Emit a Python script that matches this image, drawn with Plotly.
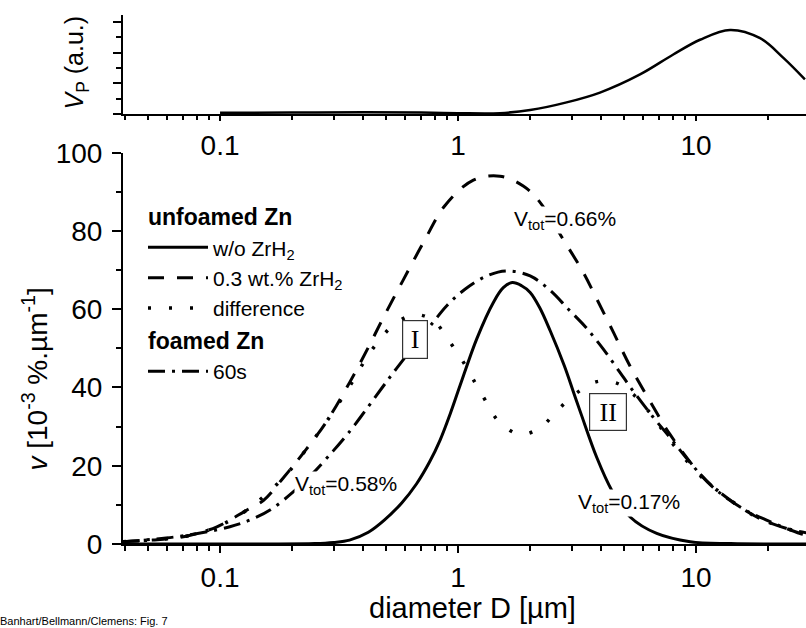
import plotly.graph_objects as go
import math

# ---------------- data ----------------
D_solid = [0.039, 0.15, 0.25, 0.30, 0.35, 0.42, 0.49, 0.58, 0.67, 0.76, 0.84, 0.93, 1.02, 1.20, 1.41,
           1.55, 1.69, 1.85, 2.01, 2.20, 2.44, 2.80, 3.05, 3.30, 3.83, 4.43, 5.29, 6.84, 9.45, 14.0, 30.0]
v_solid = [0.0, 0.0, 0.1, 0.4, 1.0, 3.0, 6.1, 10.5, 15.4, 21.0, 26.5, 33.5, 40.5, 52.5, 61.8,
           65.5, 66.8, 66.0, 64.3, 60.5, 54.5, 45.5, 39.0, 33.0, 22.1, 13.7, 6.9, 2.7, 0.6, 0.1, 0.0]

D_dash = [0.039, 0.052, 0.072, 0.097, 0.129, 0.152, 0.185, 0.231, 0.281, 0.352, 0.426, 0.485, 0.589,
          0.715, 0.882, 1.16, 1.50, 1.88, 2.20, 2.77, 3.36, 3.83, 4.49, 5.28, 6.41, 7.78, 10.4, 12.6,
          18.0, 25.6, 30.0]
v_dash = [0.6, 1.0, 2.0, 4.4, 8.6, 11.1, 17.0, 24.3, 31.4, 41.5, 51.0, 57.8, 67.5,
          77.0, 86.5, 93.0, 94.0, 91.5, 87.5, 77.8, 69.4, 62.6, 54.2, 45.5, 36.5, 28.0, 17.9, 13.2,
          6.9, 3.5, 2.8]

D_diff = [0.039, 0.072, 0.097, 0.129, 0.185, 0.231, 0.281, 0.352, 0.407, 0.455, 0.543, 0.66, 0.787,
          0.925, 1.05, 1.16, 1.30, 1.48, 1.82, 2.21, 2.64, 3.15, 3.83, 4.64, 5.46, 6.41, 7.78, 10.4,
          12.6, 18.0, 25.6, 30.0]
v_diff = [0.6, 2.0, 4.4, 8.6, 17.0, 24.3, 31.4, 40.5, 47.0, 51.2, 56.3, 58.6, 57.1,
          51.6, 46.6, 42.0, 36.8, 31.4, 28.0, 29.7, 34.4, 38.6, 41.5, 41.1, 38.2, 33.5, 26.5, 17.5,
          13.2, 6.9, 3.5, 2.8]

D_foam = [0.039, 0.052, 0.072, 0.11, 0.138, 0.165, 0.203, 0.243, 0.299, 0.352, 0.387, 0.478, 0.552,
          0.787, 0.897, 1.07, 1.32, 1.60, 2.01, 2.44, 2.91, 3.42, 3.71, 4.08, 4.80, 5.37, 6.61, 7.78,
          9.45, 11.8, 15.8, 19.8, 27.4, 30.0]
v_foam = [0.6, 1.2, 2.2, 4.4, 6.5, 9.0, 13.3, 17.8, 23.8, 28.9, 32.2, 39.8, 44.9,
          56.7, 60.9, 65.1, 68.5, 69.8, 68.5, 64.8, 60.0, 55.6, 53.0, 49.8, 43.8, 39.6, 32.4, 27.2,
          20.8, 14.5, 9.0, 6.1, 2.7, 2.2]

D_pore = [0.1, 0.2, 0.4, 0.7, 1.0, 1.5, 2.01, 2.86, 3.95, 5.82, 8.03, 10.4, 13.9, 18.6, 23.3, 28.7]
v_pore = [0.04, 0.05, 0.06, 0.05, 0.03, 0.03, 0.13, 0.38, 0.70, 1.29, 1.94, 2.42, 2.74, 2.47, 1.83, 1.13]

x_tickvals = [0.1, 1, 10]
x_ticktext = ["0.1", "1", "10"]
x_minor = [0.04, 0.05, 0.06, 0.07, 0.08, 0.09, 0.2, 0.3, 0.4, 0.5, 0.6, 0.7, 0.8, 0.9,
           2, 3, 4, 5, 6, 7, 8, 9, 20]
y_tickvals = [0, 20, 40, 60, 80, 100]

# ---------------- figure ----------------
FONT = "Liberation Sans, Arial, sans-serif"
W, H = 806, 628
L, R, T, B = 123, 0, 10, 84
PW, PH = W - L - R, H - T - B

def px_x(p):
    return (p - L) / PW

def px_y(p):
    return (H - B - p) / PH

fig = go.Figure()

common = dict(mode="lines", line_shape="spline")
fig.add_trace(go.Scatter(x=D_solid, y=v_solid, name="w/o ZrH<sub>2</sub>",
                         legendgroup="u", legendgrouptitle_text="<b>unfoamed Zn</b>",
                         line=dict(color="black", width=3), **common))
fig.add_trace(go.Scatter(x=D_dash, y=v_dash, name="0.3 wt.% ZrH<sub>2</sub>",
                         legendgroup="u", legendgrouptitle_text="<b>unfoamed Zn</b>",
                         line=dict(color="black", width=3, dash="16px,13px"), **common))
fig.add_trace(go.Scatter(x=D_diff, y=v_diff, name="difference",
                         legendgroup="u", legendgrouptitle_text="<b>unfoamed Zn</b>",
                         line=dict(color="black", width=3.5, dash="3px,18px"), **common))
fig.add_trace(go.Scatter(x=D_foam, y=v_foam, name="60s",
                         legendgroup="f", legendgrouptitle_text="<b>foamed Zn</b>",
                         line=dict(color="black", width=3, dash="17px,7px,3px,7px"), **common))
fig.add_trace(go.Scatter(x=D_pore, y=v_pore, xaxis="x2", yaxis="y2", showlegend=False,
                         line=dict(color="black", width=2.5), **common))

xr = [math.log10(0.0391), math.log10(29.0)]
tickfont = dict(family=FONT, size=28, color="black")

def xaxis_cfg(anchor, tl, mtl):
    return dict(domain=[0, 1], anchor=anchor, type="log", range=xr,
                tickvals=x_tickvals, ticktext=x_ticktext,
                ticks="outside", ticklen=tl, tickwidth=1.5, tickcolor="black",
                showline=True, linecolor="black", linewidth=2, showgrid=False, zeroline=False,
                tickfont=tickfont,
                minor=dict(tickvals=x_minor, ticks="outside", ticklen=mtl, tickwidth=1.5,
                           tickcolor="black", showgrid=False))

main_top = px_y(149)
top_bottom = px_y(110)

x2 = xaxis_cfg("y2", 5, 4)
x2["matches"] = "x"

fig.update_layout(
    width=W, height=H,
    margin=dict(l=L, r=R, t=T, b=B),
    paper_bgcolor="white", plot_bgcolor="white",
    font=dict(family=FONT, color="black"),
    xaxis=xaxis_cfg("y", 7, 5),
    xaxis2=x2,
    yaxis=dict(domain=[0, main_top], range=[0, 100], tickvals=y_tickvals,
               ticks="outside", ticklen=9, tickwidth=1.5, tickcolor="black",
               showline=True, linecolor="black", linewidth=2, showgrid=False, zeroline=False,
               tickfont=tickfont, ticklabelstandoff=4,
               minor=dict(dtick=10, ticks="outside", ticklen=5, tickwidth=1.5,
                          tickcolor="black", showgrid=False)),
    yaxis2=dict(domain=[top_bottom, 1], range=[0, (110 - 10) / 31.0], tickvals=[0, 1, 2, 3],
                showticklabels=False,
                ticks="outside", ticklen=8, tickwidth=1.5, tickcolor="black",
                showline=True, linecolor="black", linewidth=2, showgrid=False, zeroline=False,
                minor=dict(dtick=0.5, ticks="outside", ticklen=5, tickwidth=1.5,
                           tickcolor="black", showgrid=False)),
    showlegend=True,
    legend=dict(x=px_x(143), y=px_y(191), xanchor="left", yanchor="top",
                bgcolor="rgba(0,0,0,0)", traceorder="grouped", tracegroupgap=0,
                itemwidth=60, font=dict(family=FONT, size=21, color="black"),
                grouptitlefont=dict(family=FONT, size=23, color="black")),
)

ann = []
# axis titles
ann.append(dict(text="diameter D [µm]", xref="paper", yref="paper", x=px_x(472), y=px_y(609),
                xanchor="center", yanchor="middle",
                showarrow=False, font=dict(family=FONT, size=29)))
ann.append(dict(text="<i>v</i> [10<sup>-3</sup> %.µm<sup>-1</sup>]", xref="paper", yref="paper",
                x=px_x(35), y=px_y(378), xanchor="center", yanchor="middle",
                textangle=-90, showarrow=False, font=dict(family=FONT, size=28)))
ann.append(dict(text="<i>V</i><sub>P</sub> (a.u.)", xref="paper", yref="paper",
                x=px_x(76), y=px_y(58), xanchor="center", yanchor="middle",
                textangle=-90, showarrow=False, font=dict(family=FONT, size=25)))
ann.append(dict(text="Banhart/Bellmann/Clemens: Fig. 7", xref="paper", yref="paper",
                x=px_x(-2), y=px_y(622), xanchor="left", yanchor="middle", showarrow=False,
                font=dict(family=FONT, size=11)))
# in-plot labels
vt_font = dict(family=FONT, size=21)
for txt, xd, yd in [("V<sub>tot</sub>=0.66%", 2.82, 82.8),
                    ("V<sub>tot</sub>=0.58%", 0.338, 15.0),
                    ("V<sub>tot</sub>=0.17%", 5.23, 10.4)]:
    ann.append(dict(text=txt, x=math.log10(xd), y=yd, xref="x", yref="y", showarrow=False,
                    font=vt_font, bgcolor="white", borderpad=0))
box_font = dict(family="Liberation Serif, Times New Roman, serif", size=26, color="black")
ann.append(dict(text="I", x=math.log10(0.66), y=52.3, xref="x", yref="y", showarrow=False,
                font=box_font, bgcolor="white", bordercolor="#333", borderwidth=1.2,
                width=22, height=35, borderpad=1))
ann.append(dict(text="II", x=math.log10(4.27), y=33.7, xref="x", yref="y", showarrow=False,
                font=box_font, bgcolor="white", bordercolor="#333", borderwidth=1.2,
                width=34, height=34, borderpad=1))
fig.update_layout(annotations=ann)

fig.write_html("out.html")
